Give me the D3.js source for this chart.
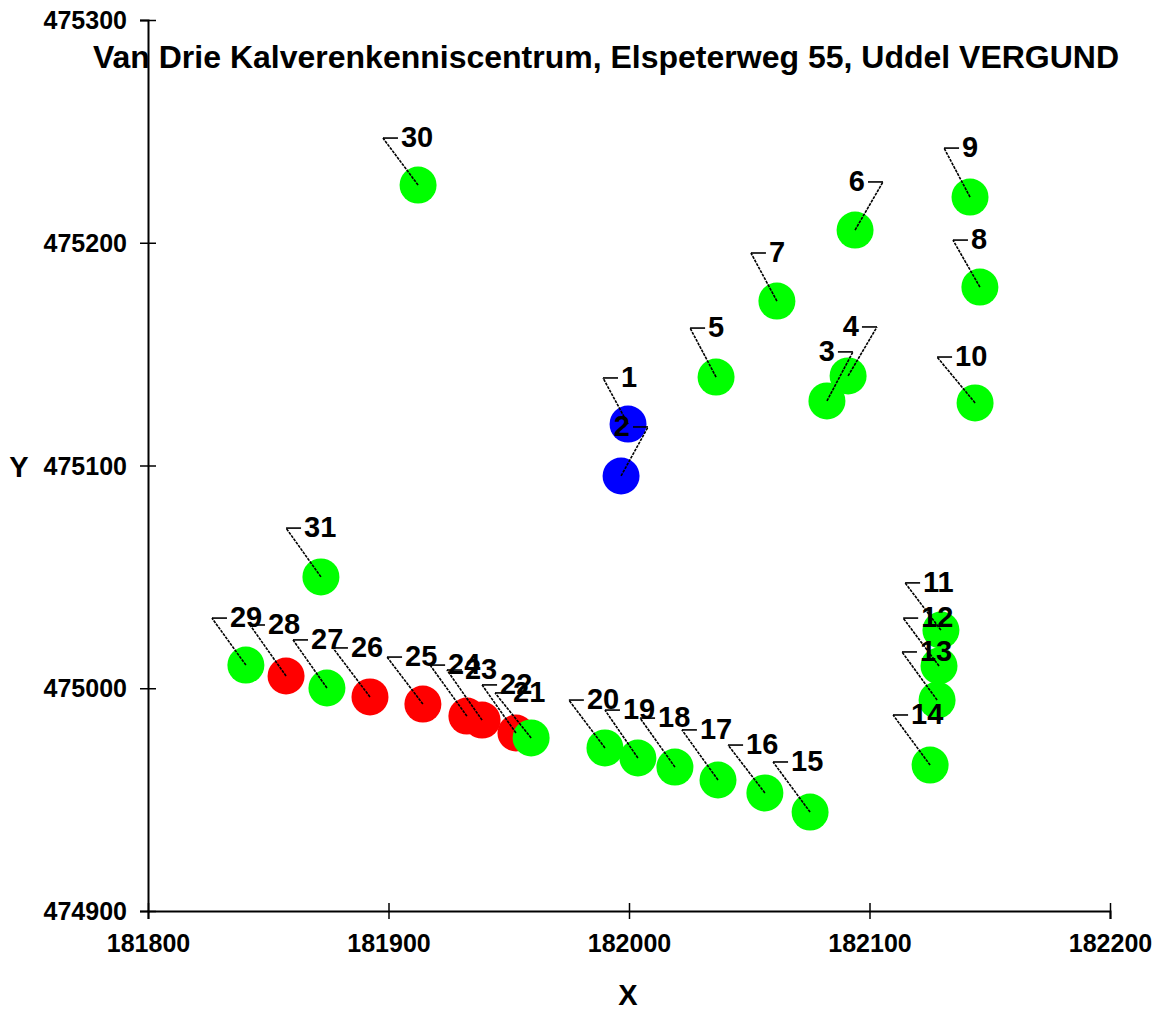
<!DOCTYPE html>
<html>
<head>
<meta charset="utf-8">
<script src="https://cdn.jsdelivr.net/npm/d3@7"></script>
<style>
  body { margin: 0; background: #fff; }
  svg { display: block; font-family: "Liberation Sans", Arial, sans-serif; font-weight: bold; }
</style>
</head>
<body>
<svg id="chart" width="1157" height="1010"></svg>
<script>
const TITLE = 'Van Drie Kalverenkenniscentrum, Elspeterweg 55, Uddel VERGUND'

// punt nummers en coordinaten (RD)
const pointIds = [1, 2, 3, 4, 5, 6, 7, 8, 9, 10, 11, 12, 13, 14, 15, 16,
    17, 18, 19, 20, 21, 22, 23, 24, 25, 26, 27, 28, 29, 30, 31]
const pointX = [181999.6, 181996.7, 182082.3, 182091.1, 182036.2, 182094.0, 182061.5, 182145.9,
    182141.8, 182143.9, 182129.7, 182128.9, 182128.1, 182125.2, 182075.3, 182056.5,
    182037.0, 182019.1, 182003.7, 181990.0, 181959.3, 181953.0, 181938.9, 181932.6,
    181914.3, 181892.3, 181874.4, 181857.4, 181840.7, 181912.3, 181871.9]
const pointY = [475118.6, 475095.3, 475129.0, 475140.2, 475139.7, 475205.7, 475173.8, 475180.1,
    475220.5, 475128.1, 475026.1, 475010.0, 474994.7, 474965.5, 474944.4, 474953.0,
    474958.8, 474964.6, 474968.7, 474973.2, 474977.7, 474979.9, 474985.7, 474987.5,
    474992.9, 474996.1, 475000.1, 475005.5, 475010.4, 475225.9, 475050.0]
const pointGroup = ['B', 'B', 'G', 'G', 'G', 'G', 'G', 'G', 'G', 'G', 'G', 'G', 'G', 'G', 'G', 'G',
    'G', 'G', 'G', 'G', 'G', 'R', 'R', 'R', 'R', 'R', 'G', 'R', 'G', 'G', 'G']

// label ankerpunten (RD) en kant van de tekst
const labelX = [181989.2, 182007.9, 182093.1, 182103.1, 182025.4, 182105.6, 182050.7, 182134.7,
    182131.0, 182128.1, 182114.8, 182114.0, 182113.5, 182109.8, 182059.9, 182041.2,
    182022.0, 182004.6, 181990.0, 181975.0, 181944.3, 181938.9, 181924.3, 181917.3,
    181899.4, 181876.9, 181860.3, 181842.4, 181826.6, 181897.7, 181857.4]
const labelY = [475139.3, 475117.3, 475151.0, 475162.2, 475161.7, 475227.3, 475195.4, 475201.2,
    475242.5, 475148.7, 475047.3, 475031.5, 475016.3, 474988.0, 474966.9, 474974.5,
    474981.3, 474986.6, 474990.2, 474994.7, 474997.9, 475001.5, 475008.2, 475010.4,
    475014.0, 475018.1, 475021.7, 475028.4, 475031.5, 475247.0, 475071.9]
const labelSide = ['L', 'R', 'R', 'R', 'L', 'R', 'L', 'L', 'L', 'L', 'L', 'L', 'L', 'L', 'L', 'L',
    'L', 'L', 'L', 'L', 'L', 'L', 'L', 'L', 'L', 'L', 'L', 'L', 'L', 'L', 'L']

const xTicks = [181800, 181900, 182000, 182100, 182200]
const yTicks = [474900, 475000, 475100, 475200, 475300]

const svg = d3.select('#chart')

const x = d3.scaleLinear().domain([181800, 182200]).range([148, 1110])
const y = d3.scaleLinear().domain([474900, 475300]).range([911, 20])

const color = d3.scaleOrdinal()
    .domain(['G', 'R', 'B'])
    .range(['#00ff00', '#ff0000', '#0000ff'])

const points = pointIds.map((id, i) => ({
    id: id,
    x: pointX[i],
    y: pointY[i],
    group: pointGroup[i],
    lx: labelX[i],
    ly: labelY[i],
    side: labelSide[i]
}))

// assen
let xAxis = svg.append('g')
    .attr('transform', 'translate(0,' + y(474900) + ')')
    .call(d3.axisBottom(x).tickValues(xTicks).tickSizeOuter(0).tickSize(8).tickFormat(d3.format('d')))
xAxis.selectAll('.tick').append('line').attr('y2', -8).attr('stroke', '#000')
xAxis.selectAll('.tick text')
    .attr('y', 41).attr('dy', 0)
    .style('font-size', '25px').style('font-family', '"Liberation Sans", Arial, sans-serif')
    .style('font-weight', 'bold')

let yAxis = svg.append('g')
    .attr('transform', 'translate(' + x(181800) + ',0)')
    .call(d3.axisLeft(y).tickValues(yTicks).tickSizeOuter(0).tickSize(8).tickFormat(d3.format('d')))
yAxis.selectAll('.tick').append('line').attr('x2', 8).attr('stroke', '#000')
yAxis.selectAll('.tick text')
    .attr('x', -21).attr('dy', '0.34em')
    .style('font-size', '25px').style('font-family', '"Liberation Sans", Arial, sans-serif')
    .style('font-weight', 'bold')

svg.selectAll('.domain').attr('stroke-width', 2)
svg.selectAll('.tick line').attr('stroke-width', 1.5)

// titel en as namen
svg.append('text')
    .attr('x', 606).attr('y', 68)
    .attr('text-anchor', 'middle')
    .style('font-size', '32px')
    .text(TITLE)

svg.append('text')
    .attr('x', 19).attr('y', 477)
    .attr('text-anchor', 'middle')
    .style('font-size', '29px')
    .text('Y')

svg.append('text')
    .attr('x', 628).attr('y', 1005)
    .attr('text-anchor', 'middle')
    .style('font-size', '29px')
    .text('X')

// punten, laatste eerst zodat 21 boven 22 ligt
svg.append('g')
    .selectAll('circle')
    .data(points.slice().reverse())
    .enter().append('circle')
    .attr('cx', (d) => x(d.x))
    .attr('cy', (d) => y(d.y))
    .attr('r', 18.5)
    .attr('fill', (d) => color(d.group))

// lijnen naar labels
const TICK_LEN = 15
let leader = svg.append('g')
    .selectAll('g')
    .data(points)
    .enter().append('g')

leader.append('line')
    .attr('x1', (d) => x(d.x))
    .attr('y1', (d) => y(d.y))
    .attr('x2', (d) => x(d.lx))
    .attr('y2', (d) => y(d.ly))
    .attr('stroke', '#000')
    .attr('stroke-width', 1.6)
    .attr('stroke-dasharray', '3,1')

leader.append('line')
    .attr('x1', (d) => x(d.lx))
    .attr('y1', (d) => y(d.ly))
    .attr('x2', (d) => d.side === 'L' ? x(d.lx) + TICK_LEN : x(d.lx) - TICK_LEN)
    .attr('y2', (d) => y(d.ly))
    .attr('stroke', '#000')
    .attr('stroke-width', 1.6)

leader.append('text')
    .attr('x', (d) => d.side === 'L' ? x(d.lx) + TICK_LEN + 3 : x(d.lx) - TICK_LEN - 3)
    .attr('y', (d) => y(d.ly) + 9)
    .attr('text-anchor', (d) => d.side === 'L' ? 'start' : 'end')
    .style('font-size', '29px')
    .text((d) => d.id)
</script>
</body>
</html>
